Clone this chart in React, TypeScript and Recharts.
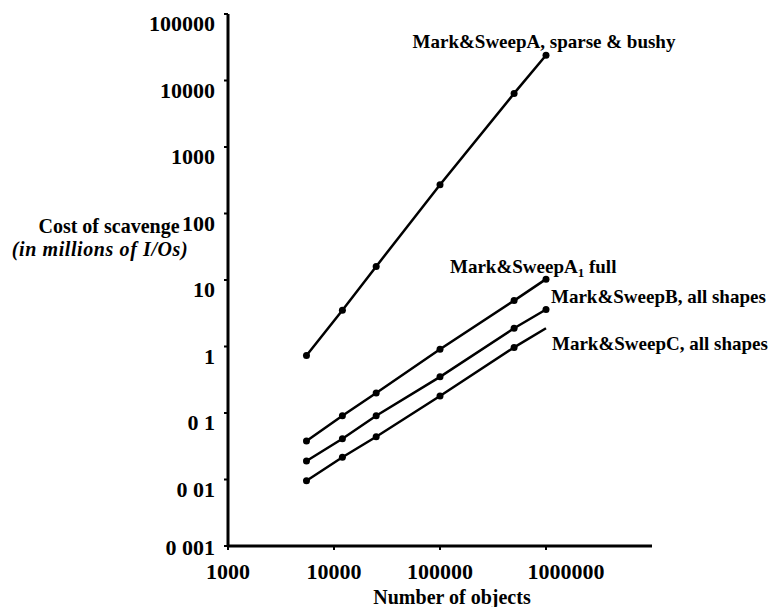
import React from 'react';
import { LineChart, Line, XAxis, YAxis, LabelList } from 'recharts';

// number of objects (x) and scavenge cost in millions of I/Os (y)
const objects = [5500, 12000, 25000, 100000, 500000, 1000000];
const sparseBushyA = [0.73, 3.5, 16, 270, 6400, 24000];
const fullA = [0.038, 0.091, 0.2, 0.91, 4.9, 10.3];
const allShapesB = [0.019, 0.041, 0.091, 0.35, 1.88, 3.6];
const allShapesC = [0.0096, 0.0216, 0.044, 0.18, 0.97, 1.88];

const xTicks = [1000, 10000, 100000, 1000000];
const yTicks = [0.001, 0.01, 0.1, 1, 10, 100, 1000, 10000, 100000];
const yTickLabels = ['0 001', '0 01', '0 1', '1', '10', '100', '1000', '10000', '100000'];

const data = objects.map((n, i) => ({
  n,
  sparse: sparseBushyA[i],
  full: fullA[i],
  b: allShapesB[i],
  c: allShapesC[i],
}));

const FONT = '"Liberation Serif", "Times New Roman", serif';
const last = objects.length - 1;

const XTick = (props: any) => {
  const { x, y, payload, index } = props;
  const dx = index === xTicks.length - 1 ? 20 : 0;
  return (
    <text x={x + dx} y={y + 27} textAnchor="middle" fontFamily={FONT} fontWeight="bold" fontSize={22} fill="#000">
      {payload.value}
    </text>
  );
};

const YTick = (props: any) => {
  const { x, y, payload } = props;
  const i = yTicks.indexOf(payload.value);
  const dy = i === 0 ? 9 : 17;
  return (
    <text x={x - 7} y={y + dy} textAnchor="end" fontFamily={FONT} fontWeight="bold" fontSize={22} fill="#000">
      {yTickLabels[i]}
    </text>
  );
};

// label drawn beside the last point of a series
const endLabel = (text: React.ReactNode, dx: number, dy: number, anchor: string) => (props: any) => {
  const { x, y, index } = props;
  if (index !== last) return null;
  return (
    <text x={x + dx} y={y + dy} textAnchor={anchor} fontFamily={FONT} fontWeight="bold" fontSize={19} fill="#000">
      {text}
    </text>
  );
};

const dotStyle = { r: 3.5, fill: '#000', stroke: '#000', strokeWidth: 0 };

const noLastDot = (props: any) => {
  const { cx, cy, index } = props;
  if (index === last) return <g key={`d${index}`} />;
  return <circle key={`d${index}`} cx={cx} cy={cy} r={3.5} fill="#000" />;
};

const App: React.FC = () => {
  return (
    <div style={{ position: 'absolute', left: 0, top: 0, background: '#fff' }}>
      <LineChart width={773} height={607} data={data} margin={{ top: 14, right: 121, bottom: 0, left: 0 }}>
        <XAxis
          dataKey="n"
          type="number"
          scale="log"
          domain={[1000, 10000000]}
          ticks={xTicks}
          allowDataOverflow
          height={61}
          axisLine={{ stroke: '#000', strokeWidth: 3 }}
          tickLine={{ stroke: '#000', strokeWidth: 2 }}
          tickSize={4}
          tick={<XTick />}
          label={{
            content: (p: any) => {
              const vb = p.viewBox;
              return (
                <text x={vb.x + vb.width / 2 + 12} y={vb.y + 58} textAnchor="middle" fontFamily={FONT} fontWeight="bold" fontSize={20} fill="#000">
                  Number of objects
                </text>
              );
            },
          }}
        />
        <YAxis
          type="number"
          scale="log"
          domain={[0.001, 100000]}
          ticks={yTicks}
          allowDataOverflow
          width={228}
          axisLine={{ stroke: '#000', strokeWidth: 3 }}
          tickLine={{ stroke: '#000', strokeWidth: 2 }}
          tickSize={4}
          tick={<YTick />}
          label={{
            content: () => (
              <g fontFamily={FONT} fill="#000">
                <text x={109} y={233} textAnchor="middle" fontWeight="bold" fontSize={20}>
                  Cost of scavenge
                </text>
                <text x={100} y={256} textAnchor="middle" fontWeight="bold" fontStyle="italic" fontSize={20} letterSpacing={0.6}>
                  (in millions of I/Os)
                </text>
              </g>
            ),
          }}
        />
        <Line dataKey="sparse" stroke="#000" strokeWidth={2.5} dot={dotStyle} isAnimationActive={false}>
          <LabelList dataKey="sparse" content={endLabel('Mark&SweepA, sparse & bushy', -2, -7, 'middle')} />
        </Line>
        <Line dataKey="full" stroke="#000" strokeWidth={2.5} dot={dotStyle} isAnimationActive={false}>
          <LabelList
            dataKey="full"
            content={endLabel(
              <>
                Mark&amp;SweepA
                <tspan dy={4} fontSize={13}>1</tspan>
                <tspan dy={-4}> full</tspan>
              </>,
              -96,
              -6,
              'start'
            )}
          />
        </Line>
        <Line dataKey="b" stroke="#000" strokeWidth={2.5} dot={dotStyle} isAnimationActive={false}>
          <LabelList dataKey="b" content={endLabel('Mark&SweepB, all shapes', 5, -7, 'start')} />
        </Line>
        <Line dataKey="c" stroke="#000" strokeWidth={2.5} dot={noLastDot} isAnimationActive={false}>
          <LabelList dataKey="c" content={endLabel('Mark&SweepC, all shapes', 6, 22, 'start')} />
        </Line>
      </LineChart>
    </div>
  );
};

export default App;
